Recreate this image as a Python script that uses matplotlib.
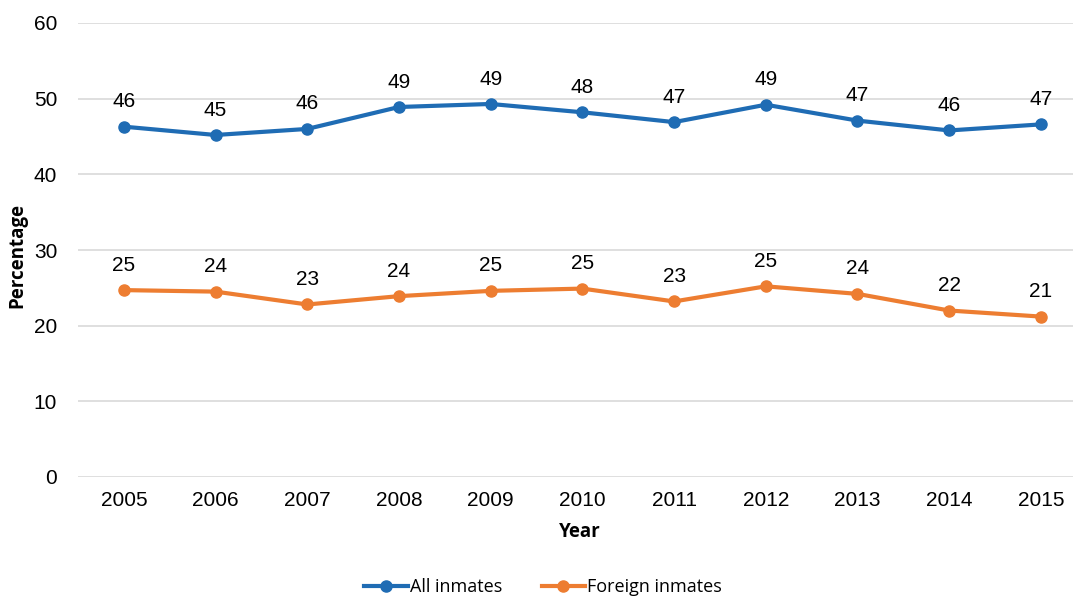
import matplotlib
matplotlib.use("Agg")
from matplotlib import pyplot as plt

years = ["2005", "2006", "2007", "2008", "2009", "2010", "2011", "2012", "2013", "2014", "2015"]
all_inmates = [46.3, 45.2, 46.0, 48.9, 49.3, 48.2, 46.9, 49.2, 47.1, 45.8, 46.6]
foreign_inmates = [24.7, 24.5, 22.8, 23.9, 24.6, 24.9, 23.2, 25.2, 24.2, 22.0, 21.2]
all_labels = [46, 45, 46, 49, 49, 48, 47, 49, 47, 46, 47]
foreign_labels = [25, 24, 23, 24, 25, 25, 23, 25, 24, 22, 21]

blue = "#1f6cb4"
orange = "#ed7d31"

fig = plt.figure(figsize=(10.73, 5.97), dpi=100)
ax = fig.add_axes([78 / 1073, 1 - 477 / 597, 1 - 78 / 1073, (477 - 23) / 597])

x = list(range(len(years)))
ax.plot(x, all_inmates, color=blue, lw=3, marker="o", ms=8, label="All inmates")
ax.plot(x, foreign_inmates, color=orange, lw=3, marker="o", ms=8, label="Foreign inmates")

for xi, v, lab in zip(x, all_inmates, all_labels):
    ax.annotate(str(lab), (xi, v), xytext=(0, 14), textcoords="offset points",
                ha="center", va="baseline", fontsize=15, family="Liberation Sans")
for xi, v, lab in zip(x, foreign_inmates, foreign_labels):
    ax.annotate(str(lab), (xi, v), xytext=(0, 14), textcoords="offset points",
                ha="center", va="baseline", fontsize=15, family="Liberation Sans")

ax.set_xlim(-0.5, 10.35)
ax.set_ylim(0, 60)
ax.set_xticks(x)
ax.set_xticklabels(years)
ax.set_yticks(range(0, 61, 10))
for lab in ax.get_xticklabels() + ax.get_yticklabels():
    lab.set_family("Liberation Sans")
    lab.set_fontsize(15)
ax.tick_params(axis="both", length=0)
ax.tick_params(axis="y", pad=15)
ax.tick_params(axis="x", pad=10)
ax.grid(axis="y", color="#d9d9d9", lw=1.2)
ax.set_axisbelow(True)
for s in ax.spines.values():
    s.set_visible(False)

fig.text(580 / 1073, 1 - 532 / 597, "Year", ha="center", va="center",
         fontsize=13.5, fontweight="bold", family="Open Sans")
fig.text(17 / 1073, 1 - 255 / 597, "Percentage", ha="center", va="center", rotation=90,
         fontsize=13.5, fontweight="bold", family="Open Sans")

fig.legend(loc="center", bbox_to_anchor=(543 / 1073, 1 - 587 / 597), ncol=2, frameon=False,
           prop={"family": "Open Sans", "size": 13}, handlelength=2.4, handletextpad=0.1,
           columnspacing=2.2, borderaxespad=0)

fig.savefig("out.png", dpi=100)
